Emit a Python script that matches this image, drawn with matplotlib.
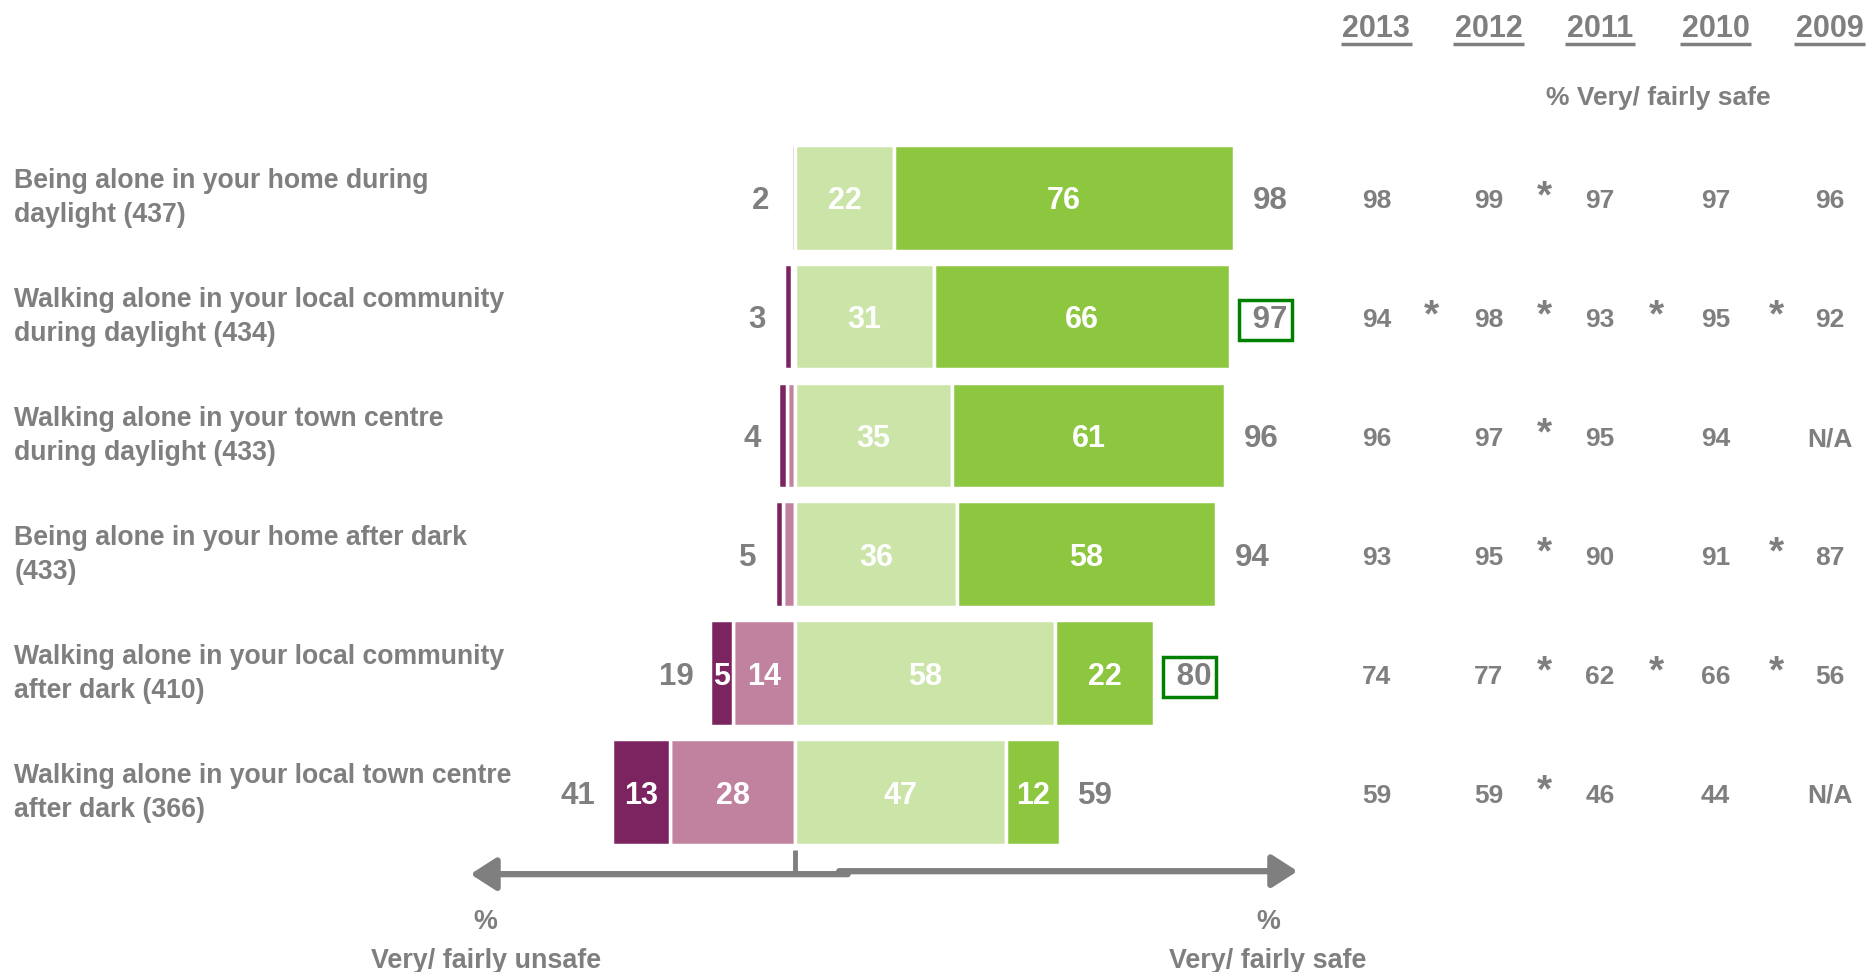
import matplotlib
matplotlib.use("Agg")
import matplotlib.pyplot as plt
from matplotlib.patches import FancyArrowPatch

# survey items (left labels)
labels = [
    "Being alone in your home during\ndaylight (437)",
    "Walking alone in your local community\nduring daylight (434)",
    "Walking alone in your town centre\nduring daylight (433)",
    "Being alone in your home after dark\n(433)",
    "Walking alone in your local community\nafter dark (410)",
    "Walking alone in your local town centre\nafter dark (366)",
]

# segment widths as drawn (%)
very_unsafe = [0, 1.8, 1.9, 1.8, 5, 13]
fairly_unsafe = [1.0, 0.8, 1.9, 2.8, 14, 28]
fairly_safe = [22, 31, 35, 36, 58, 47]
very_safe = [76, 66, 61, 58, 22, 12]

# totals shown at bar ends
unsafe_total = [2, 3, 4, 5, 19, 41]
safe_total = [98, 97, 96, 94, 80, 59]
boxed = [False, True, False, False, True, False]

# trend table: % very/ fairly safe by year
years = ["2013", "2012", "2011", "2010", "2009"]
trend = [
    ["98", "99", "97", "97", "96"],
    ["94", "98", "93", "95", "92"],
    ["96", "97", "95", "94", "N/A"],
    ["93", "95", "90", "91", "87"],
    ["74", "77", "62", "66", "56"],
    ["59", "59", "46", "44", "N/A"],
]
# significant change markers between neighbouring years
stars = [
    [False, True, False, False],
    [True, True, True, True],
    [False, True, False, False],
    [False, True, False, True],
    [False, True, True, True],
    [False, True, False, False],
]

GREY = "#7f7f7f"
C_VU = "#7b2460"
C_FU = "#c0829e"
C_FS = "#cbe4a8"
C_VS = "#8dc63f"
FONT = "Liberation Sans"

fig = plt.figure(figsize=(18.67, 9.72), dpi=100)
ax = fig.add_axes([0, 0, 1, 1])
ax.set_xlim(-177.5, 239.2)
ax.set_ylim(6.513, -1.663)
ax.axis("off")

y = list(range(len(labels)))
h = 0.89
dy = 0.03  # nudge numbers down a little to sit on the row centre
ekw = dict(edgecolor="white", linewidth=2.5)

fu_neg = [-v for v in fairly_unsafe]
vu_neg = [-v for v in very_unsafe]
ax.barh(y, fu_neg, left=0, height=h, color=C_FU, **ekw)
ax.barh(y, vu_neg, left=fu_neg, height=h, color=C_VU, **ekw)
ax.barh(y, fairly_safe, left=0, height=h, color=C_FS, **ekw)
ax.barh(y, very_safe, left=fairly_safe, height=h, color=C_VS, **ekw)

inner = dict(color="white", fontsize=22, fontweight="bold", family=FONT,
             ha="center", va="center")
tot = dict(color=GREY, fontsize=22.5, fontweight="bold", family=FONT, va="center")
for i in y:
    yc = i + dy
    if very_unsafe[i] >= 4:
        ax.text(-fairly_unsafe[i] - very_unsafe[i] / 2, yc, str(very_unsafe[i]), **inner)
    if fairly_unsafe[i] >= 4:
        ax.text(-fairly_unsafe[i] / 2, yc, str(fairly_unsafe[i]), **inner)
    ax.text(fairly_safe[i] / 2, yc, str(fairly_safe[i]), **inner)
    ax.text(fairly_safe[i] + very_safe[i] / 2, yc, str(very_safe[i]), **inner)

    ax.annotate(str(unsafe_total[i]), (-unsafe_total[i], yc), xytext=(-12, 0),
                textcoords="offset points", ha="right", **tot)
    end = fairly_safe[i] + very_safe[i]
    if boxed[i]:
        ax.annotate(" " + str(safe_total[i]), (end, yc), xytext=(10, 0),
                    textcoords="offset points", ha="left",
                    bbox=dict(boxstyle="square,pad=0.16", fc="white", ec="#008000", lw=2.5),
                    **tot)
    else:
        ax.annotate(str(safe_total[i]), (end, yc), xytext=(13, 0),
                    textcoords="offset points", ha="left", **tot)

    ax.text(-174.3, i + 0.005, labels[i], color=GREY, fontsize=19.2, fontweight="bold",
            family=FONT, ha="left", va="center", linespacing=1.4)

# trend table
col_x = [129.7, 154.7, 179.6, 205.4, 230.9]
star_x = [141.9, 167.2, 192.1, 219.0]
for j, yr in enumerate(years):
    ax.text(col_x[j], -1.423, yr, color=GREY, fontsize=22, fontweight="bold",
            family=FONT, ha="center", va="center")
    ax.plot([col_x[j] - 7.9, col_x[j] + 7.9], [-1.29, -1.29], color=GREY, lw=2.5,
            solid_capstyle="butt")
ax.text(192.7, -0.842, "% Very/ fairly safe", color=GREY, fontsize=19,
        fontweight="bold", family=FONT, ha="center", va="center")
for i in y:
    for j in range(len(years)):
        ax.text(col_x[j], i + dy, trend[i][j], color=GREY, fontsize=19, fontweight="bold",
                family=FONT, ha="center", va="center")
    for j in range(len(star_x)):
        if stars[i][j]:
            ax.text(star_x[j], i - 0.005, "*", color=GREY, fontsize=28, fontweight="bold",
                    family=FONT, ha="center", va="center")

# bottom axis arrows
akw = dict(arrowstyle="-|>,head_length=0.7,head_width=0.45", mutation_scale=22,
           color=GREY, lw=4.5, shrinkA=0, shrinkB=0)
ax.add_patch(FancyArrowPatch((11.7, 5.69), (-72.5, 5.69), **akw))
ax.add_patch(FancyArrowPatch((9.8, 5.665), (112.1, 5.665), **akw))
ax.plot([0, 0], [5.49, 5.68], color=GREY, lw=3.5, solid_capstyle="butt")

bkw = dict(color=GREY, fontsize=19.4, fontweight="bold", family=FONT,
           ha="center", va="center")
ax.text(-69.1, 6.09, "%", **bkw)
ax.text(105.5, 6.09, "%", **bkw)
ax.text(-69.1, 6.42, "Very/ fairly unsafe", **bkw)
ax.text(105.5, 6.42, "Very/ fairly safe", **bkw)

fig.savefig("out.png", dpi=100)
